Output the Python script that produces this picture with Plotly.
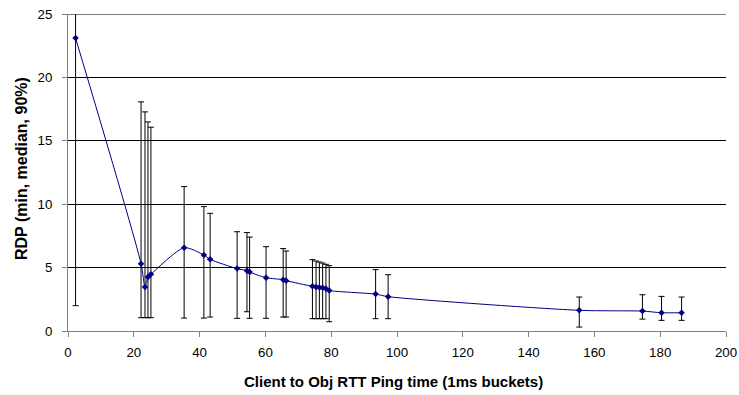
import plotly.graph_objects as go

# Data
rtt_ms = [2.3, 22.2, 23.4, 24.3, 25.2, 35.3, 41.3, 43.2, 51.4, 54.4, 55.2, 60.2, 65.4, 66.3,
          74.3, 75.4, 76.4, 77.4, 78.4, 79.4, 93.5, 97.3, 155.4, 174.6, 180.4, 186.5]
rdp_median = [23.1, 5.31, 3.47, 4.26, 4.47, 6.57, 5.99, 5.65, 4.92, 4.76, 4.65, 4.2, 4.05, 3.97,
              3.52, 3.47, 3.44, 3.42, 3.34, 3.2, 2.91, 2.71, 1.63, 1.57, 1.44, 1.44]
rdp_p90 = [25.1, 18.07, 17.28, 16.49, 16.07, 11.39, 9.81, 9.28, 7.83, 7.76, 7.41, 6.65, 6.5, 6.31,
           5.63, 5.52, 5.44, 5.36, 5.26, 5.15, 4.84, 4.44, 2.68, 2.86, 2.73, 2.68]
rdp_min = [2.0, 1.05, 1.05, 1.05, 1.05, 1.02, 1.02, 1.1, 1.0, 1.52, 1.0, 1.0, 1.1, 1.1,
           0.97, 0.97, 0.97, 0.97, 0.97, 0.73, 0.97, 0.97, 0.31, 0.94, 0.84, 0.84]
x_range = [0, 200]
y_range = [0, 25]
x_title = "Client to Obj RTT Ping time (1ms buckets)"
y_title = "RDP (min, median, 90%)"

err_plus = [p - m for p, m in zip(rdp_p90, rdp_median)]
err_minus = [m - lo for m, lo in zip(rdp_median, rdp_min)]

fig = go.Figure()
fig.add_trace(go.Scatter(
    x=rtt_ms, y=rdp_median, mode="lines+markers",
    line=dict(color="#000080", width=1, shape="spline", smoothing=0.7),
    marker=dict(symbol="diamond", size=5, color="#000080"),
    error_y=dict(type="data", symmetric=False, array=err_plus, arrayminus=err_minus,
                 color="#000000", thickness=1, width=3),
    showlegend=False,
))

font = "Liberation Sans, Arial, sans-serif"
fig.update_layout(
    width=739, height=395,
    margin=dict(l=68, r=13, t=14, b=64),
    paper_bgcolor="white", plot_bgcolor="white",
    font=dict(family=font, size=13, color="black"),
)
fig.update_xaxes(
    range=x_range, dtick=20, tick0=0,
    showgrid=False, zeroline=False,
    showline=True, linecolor="#808080", linewidth=1,
    ticks="outside", ticklen=5, tickcolor="#808080",
    tickfont=dict(size=13.3, family=font),
    ticklabelstandoff=4,
    automargin=False,
)
fig.update_yaxes(
    range=y_range, dtick=5, tick0=0,
    showgrid=True, gridcolor="#000000", gridwidth=1,
    zeroline=False,
    showline=True, linecolor="#808080", linewidth=1,
    ticks="outside", ticklen=5, tickcolor="#808080",
    tickfont=dict(size=13.3, family=font),
    ticklabelstandoff=7,
    automargin=False,
)
# top gridline (at the upper end of the y range), which plotly drops at the edge
fig.add_shape(type="line", xref="paper", x0=0, x1=1, yref="y",
              y0=y_range[1], y1=y_range[1], line=dict(color="#000000", width=1),
              layer="below")
fig.add_annotation(
    text="<b>" + x_title + "</b>", xref="paper", yref="paper",
    x=0.4954, y=0, yshift=-50, xanchor="center", yanchor="middle",
    showarrow=False, font=dict(size=15, family=font, color="black"),
)
fig.add_annotation(
    text="<b>" + y_title + "</b>", xref="paper", yref="paper",
    x=0, xshift=-47, y=0.511, xanchor="center", yanchor="middle",
    textangle=-90, showarrow=False, font=dict(size=16, family=font, color="black"),
)

fig.write_html(
    "out.html",
    config={"displayModeBar": False},
    post_script="document.body.style.margin='0';document.body.style.overflow='hidden';",
)
